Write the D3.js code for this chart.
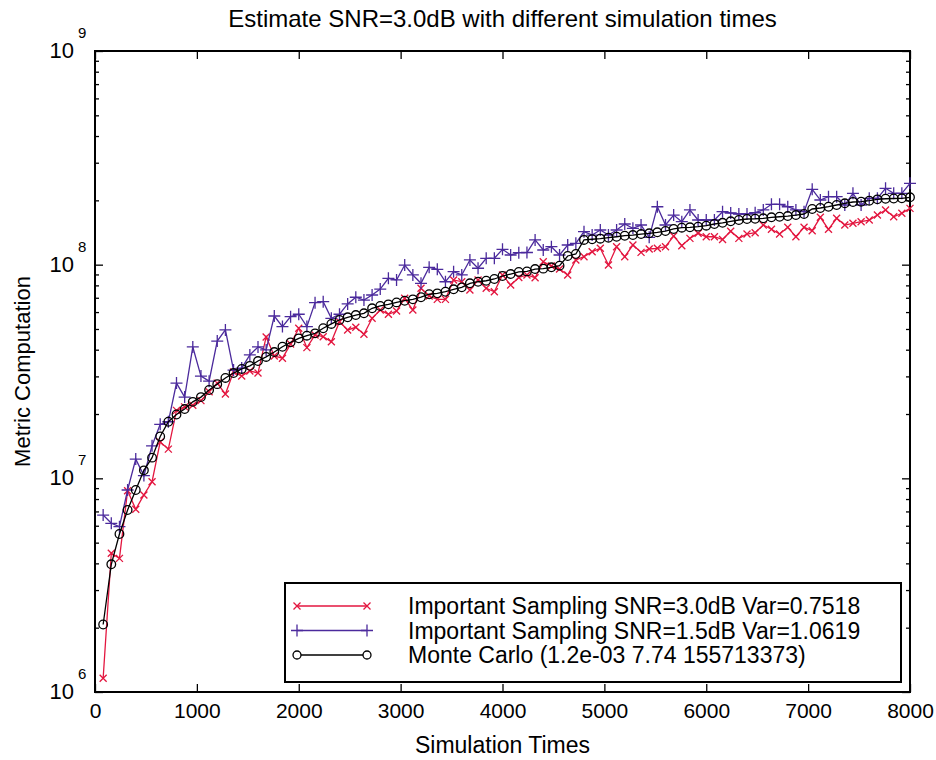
<!DOCTYPE html>
<html>
<head>
<meta charset="utf-8">
<title>Estimate SNR=3.0dB with different simulation times</title>
<script src="https://cdn.jsdelivr.net/npm/d3@7"></script>
<style>
  body { margin: 0; background: #fff; }
  text { font-family: "Liberation Sans", Arial, Helvetica, sans-serif; fill: #000; }
</style>
</head>
<body>
<svg id="chart" width="936" height="760"></svg>
<script>
// simulation times (x)
var simTimes = [80,160,240,320,400,480,560,640,720,800,880,960,1040,1120,1200,1280,1360,1440,1520,1600,
  1680,1760,1840,1920,2000,2080,2160,2240,2320,2400,2480,2560,2640,2720,2800,2880,2960,3040,3120,3200,
  3280,3360,3440,3520,3600,3680,3760,3840,3920,4000,4080,4160,4240,4320,4400,4480,4560,4640,4720,4800,
  4880,4960,5040,5120,5200,5280,5360,5440,5520,5600,5680,5760,5840,5920,6000,6080,6160,6240,6320,6400,
  6480,6560,6640,6720,6800,6880,6960,7040,7120,7200,7280,7360,7440,7520,7600,7680,7760,7840,7920,8000];

// metric computation, in millions
var is30 = [1.16,4.46,4.22,8.75,7.16,8.36,9.64,14.8,13.7,20.8,21.6,22.0,23.1,25.4,27.9,24.8,31.5,30.1,31.8,31.1,
  45.9,37.4,36.5,42.5,50.4,40.9,46.9,46.0,43.6,54.1,49.5,50.9,47.2,56.1,61.3,58.6,60.7,69.6,61.3,77.5,
  71.3,68.8,68.8,84.8,83.2,76.1,84.8,77.5,74.7,89.5,80.3,87.1,89.5,86.9,103.2,98.6,95.4,89.5,105.2,109.0,
  115.0,119.3,99.6,121.4,109.0,123.6,114.2,118.4,119.3,121.4,136.2,122.7,132.8,140.2,135.1,135.1,131.1,143.4,132.8,139.1,
  141.1,153.3,146.4,139.1,149.6,135.1,149.6,144.2,166.6,146.4,164.8,153.3,156.2,158.9,161.8,170.7,180.3,167.6,174.0,183.5];

var is15 = [6.73,6.16,5.94,8.82,12.3,10.3,14.2,17.9,18.4,27.9,24.0,41.2,30.1,28.5,43.9,49.5,32.1,32.8,37.8,41.2,
  39.9,57.5,51.3,57.1,58.6,51.3,66.4,67.1,56.1,58.6,65.5,70.4,68.3,72.1,76.9,86.3,84.8,99.6,89.5,81.8,
  97.2,95.1,83.2,92.7,89.5,105.2,96.2,107.1,107.1,118.0,111.0,113.8,114.0,130.5,117.1,121.4,111.0,123.6,125.9,142.7,
  137.6,145.3,137.6,145.3,155.0,148.0,153.3,134.3,186.7,153.3,170.7,158.9,180.3,161.8,161.8,161.8,177.0,174.5,172.6,172.6,
  175.0,180.3,191.6,191.6,186.7,180.3,177.0,225.2,200.7,208.0,208.0,190.2,215.8,190.2,204.4,204.4,227.7,215.8,215.8,240.2];

var monteCarlo = [2.07,3.96,5.49,7.11,8.82,10.9,12.5,15.7,18.4,19.9,21.1,22.8,24.0,25.9,27.6,29.5,31.1,32.5,33.6,35.4,
  37.0,39.0,41.3,43.3,45.2,46.5,47.7,50.4,52.8,55.1,56.7,58.1,59.2,62.5,64.1,65.2,66.6,67.8,68.8,70.4,
  72.7,73.4,74.7,76.7,78.3,81.8,83.2,84.1,85.7,88.5,90.4,92.5,93.0,95.4,95.8,97.2,98.9,109.8,112.2,130.5,
  131.5,132.3,133.7,135.1,136.6,137.6,139.1,140.2,141.7,143.7,146.9,148.9,149.6,150.6,152.2,155.0,157.0,159.6,161.8,163.6,
  164.0,164.8,166.6,167.6,168.9,170.7,172.6,182.2,184.2,186.7,190.2,193.7,196.5,197.1,199.2,202.2,203.5,204.0,204.5,206.7];

var xTicks = [0,1000,2000,3000,4000,5000,6000,7000,8000];
var yDecades = [6,7,8,9];
var legendLabels = [
  "Important Sampling SNR=3.0dB Var=0.7518",
  "Important Sampling SNR=1.5dB Var=1.0619",
  "Monte Carlo (1.2e-03 7.74 155713373)"
];

var margin = {top: 51, right: 26, bottom: 68, left: 95};
var W = 936, H = 760;
var w = W - margin.left - margin.right, h = H - margin.top - margin.bottom;

var svg = d3.select("#chart");
var g = svg.append("g").attr("transform", "translate(" + margin.left + "," + margin.top + ")");

var x = d3.scaleLinear().domain([0, 8000]).range([0, w]);
var y = d3.scaleLog().domain([1e6, 1e9]).range([h, 0]);

var majorY = yDecades.map(function(e) { return Math.pow(10, e); });
var minorY = [];
yDecades.slice(0, 3).forEach(function(e) {
  for (var k = 2; k <= 9; k++) minorY.push(k * Math.pow(10, e));
});

function tickStyle(sel) {
  sel.select(".domain").remove();
  sel.selectAll(".tick line").attr("stroke", "#000").attr("stroke-width", 1.3);
}

// x axes
g.append("g").attr("transform", "translate(0," + h + ")")
  .call(d3.axisBottom(x).tickValues(xTicks).tickSize(-8).tickPadding(11).tickFormat(d3.format("d")))
  .call(tickStyle)
  .selectAll("text").attr("font-size", 21).attr("font-family", "Liberation Sans, Arial, sans-serif");
g.append("g")
  .call(d3.axisTop(x).tickValues(xTicks).tickSize(-8).tickFormat(""))
  .call(tickStyle);

// y axes: major + minor ticks, both sides
g.append("g").call(d3.axisLeft(y).tickValues(majorY).tickSize(-8).tickFormat("")).call(tickStyle);
g.append("g").call(d3.axisLeft(y).tickValues(minorY).tickSize(-4).tickFormat("")).call(tickStyle);
g.append("g").attr("transform", "translate(" + w + ",0)")
  .call(d3.axisRight(y).tickValues(majorY).tickSize(-8).tickFormat("")).call(tickStyle);
g.append("g").attr("transform", "translate(" + w + ",0)")
  .call(d3.axisRight(y).tickValues(minorY).tickSize(-4).tickFormat("")).call(tickStyle);

// y labels as 10^n
var yl = g.append("g").selectAll("g").data(yDecades).enter().append("g")
  .attr("transform", function(e) { return "translate(-21," + y(Math.pow(10, e)) + ")"; });
yl.append("text").attr("text-anchor", "end").attr("y", 7).attr("font-size", 22).text("10");
yl.append("text").attr("x", 4).attr("y", -13).attr("font-size", 15).text(function(e) { return e; });

// frame
g.append("rect").attr("width", w).attr("height", h)
  .attr("fill", "none").attr("stroke", "#000").attr("stroke-width", 2);

// titles
svg.append("text").attr("x", margin.left + w / 2).attr("y", 27)
  .attr("text-anchor", "middle").attr("font-size", 24)
  .text("Estimate SNR=3.0dB with different simulation times");
svg.append("text").attr("x", margin.left + w / 2).attr("y", 753)
  .attr("text-anchor", "middle").attr("font-size", 23).text("Simulation Times");
svg.append("text").attr("transform", "translate(30," + (margin.top + h / 2) + ") rotate(-90)")
  .attr("text-anchor", "middle").attr("font-size", 22).text("Metric Computation");

// series
var series = [
  {vals: is30, color: "#e3163f", marker: "x"},
  {vals: is15, color: "#4b2a9c", marker: "plus"},
  {vals: monteCarlo, color: "#000", marker: "circle"}
];

function drawMarker(sel, type, color) {
  if (type === "x") {
    sel.append("path").attr("d", "M-3.5,-3.5L3.5,3.5M-3.5,3.5L3.5,-3.5")
      .attr("stroke", color).attr("stroke-width", 1.3).attr("fill", "none");
  } else if (type === "plus") {
    sel.append("path").attr("d", "M-6,0L6,0M0,-6L0,6")
      .attr("stroke", color).attr("stroke-width", 1.3).attr("fill", "none");
  } else {
    sel.append("circle").attr("r", 4.3)
      .attr("stroke", color).attr("stroke-width", 1.3).attr("fill", "none");
  }
}

var line = d3.line()
  .x(function(d, i) { return x(simTimes[i]); })
  .y(function(d) { return y(d * 1e6); });

var plot = g.append("g");
series.forEach(function(s) {
  plot.append("path").datum(s.vals).attr("d", line)
    .attr("fill", "none").attr("stroke", s.color).attr("stroke-width", 1.3);
  var pts = plot.append("g").selectAll("g").data(s.vals).enter().append("g")
    .attr("transform", function(d, i) { return "translate(" + x(simTimes[i]) + "," + y(d * 1e6) + ")"; });
  pts.each(function() { drawMarker(d3.select(this), s.marker, s.color); });
});

// legend
var leg = svg.append("g").attr("transform", "translate(285,583)");
leg.append("rect").attr("width", 616).attr("height", 99)
  .attr("fill", "#fff").attr("stroke", "#000").attr("stroke-width", 2);
var rows = leg.selectAll(".row").data(series).enter().append("g")
  .attr("transform", function(d, i) { return "translate(0," + (23 + i * 24.5) + ")"; });
rows.append("line").attr("x1", 12).attr("x2", 82)
  .attr("stroke", function(d) { return d.color; }).attr("stroke-width", 1.3);
rows.each(function(s) {
  var r = d3.select(this);
  [12, 82].forEach(function(px) {
    var m = r.append("g").attr("transform", "translate(" + px + ",0)");
    if (s.marker === "circle") {
      m.append("circle").attr("r", 4).attr("stroke", s.color).attr("stroke-width", 1.3).attr("fill", "#fff");
    } else {
      drawMarker(m, s.marker, s.color);
    }
  });
});
rows.append("text").attr("x", 123).attr("y", 8).attr("font-size", 23)
  .text(function(d, i) { return legendLabels[i]; });
</script>
</body>
</html>
